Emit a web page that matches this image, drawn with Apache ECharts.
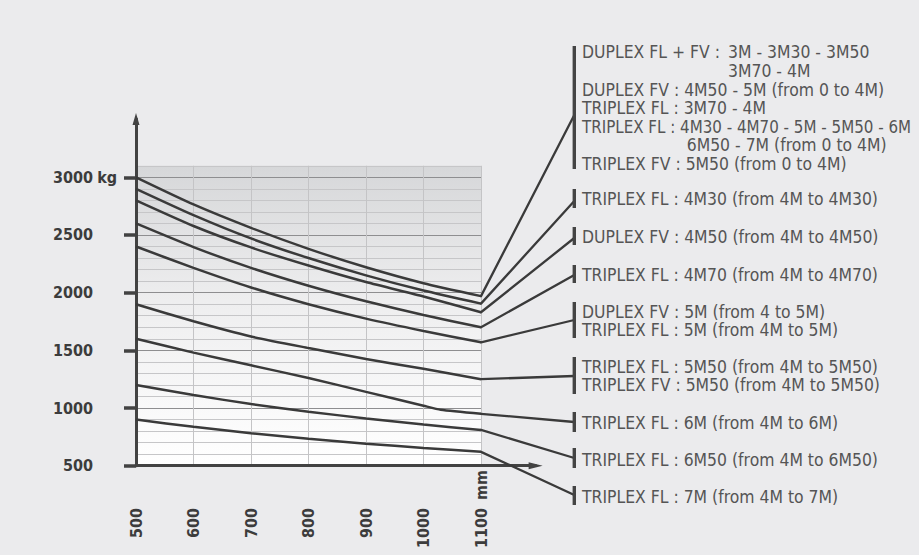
<!DOCTYPE html>
<html>
<head>
<meta charset="utf-8">
<script src="https://cdn.jsdelivr.net/npm/echarts@6.0.0/dist/echarts.min.js"></script>
<style>
html,body{margin:0;padding:0;background:#ebebed;}
#c{width:919px;height:555px;}
</style>
</head>
<body>
<div id="c"></div>
<script>
// ---------------- data ----------------
const loadCentres = [500, 600, 700, 800, 900, 1000, 1100];        // mm
const cap1 = [3000, 2765, 2562, 2380, 2220, 2082, 1970];          // kg
const cap2 = [2900, 2672, 2470, 2300, 2150, 2018, 1905];
const cap3 = [2800, 2578, 2392, 2235, 2092, 1967, 1830];
const cap4 = [2600, 2395, 2215, 2060, 1925, 1806, 1700];
const cap5 = [2400, 2215, 2045, 1900, 1775, 1668, 1570];
const cap6 = [1900, 1752, 1620, 1520, 1425, 1340, 1250];
const cap7Centres = [500, 600, 700, 800, 900, 1000, 1030, 1100];
const cap7 = [1600, 1480, 1370, 1260, 1140, 1020, 985, 950];
const cap8 = [1200, 1112, 1035, 968, 910, 857, 810];
const cap9 = [900, 837, 782, 734, 691, 654, 620];
const xUnit = 'mm';
const yUnit = 'kg';

const labelBlocks = [
  ['DUPLEX FL + FV :', '3M - 3M30 - 3M50', '3M70 - 4M',
   'DUPLEX FV : 4M50 - 5M (from 0 to 4M)', 'TRIPLEX FL : 3M70 - 4M',
   'TRIPLEX FL : 4M30 - 4M70 - 5M - 5M50 - 6M', '6M50 - 7M (from 0 to 4M)',
   'TRIPLEX FV : 5M50 (from 0 to 4M)'],
  ['TRIPLEX FL : 4M30 (from 4M to 4M30)'],
  ['DUPLEX FV : 4M50 (from 4M to 4M50)'],
  ['TRIPLEX FL : 4M70 (from 4M to 4M70)'],
  ['DUPLEX FV : 5M (from 4 to 5M)', 'TRIPLEX FL : 5M (from 4M to 5M)'],
  ['TRIPLEX FL : 5M50 (from 4M to 5M50)', 'TRIPLEX FV : 5M50 (from 4M to 5M50)'],
  ['TRIPLEX FL : 6M (from 4M to 6M)'],
  ['TRIPLEX FL : 6M50 (from 4M to 6M50)'],
  ['TRIPLEX FL : 7M (from 4M to 7M)']
];

// ---------------- layout (pixels) ----------------
const X0 = 136, KX = 0.575, Y0 = 465.7, KY = 0.11536;
const BAR_X = 574.3;
const bracketLayout = [
  {top: 46, bottom: 169, meet: 115},
  {top: 189, bottom: 208, meet: 201},
  {top: 227, bottom: 245, meet: 238},
  {top: 265, bottom: 283, meet: 275},
  {top: 302, bottom: 338, meet: 320},
  {top: 357, bottom: 394, meet: 376},
  {top: 412, bottom: 432, meet: 422},
  {top: 448, bottom: 468, meet: 458},
  {top: 486, bottom: 505, meet: 495}
];
// [x, y, fontSize?]
const labelPos = [
  [[582, 52.3], [728, 52.3], [728, 70.9], [582, 89.5], [582, 108.1], [582, 126.7, 16.8], [686.7, 145.3], [582, 164]],
  [[582, 199]],
  [[582, 236.7]],
  [[582, 275]],
  [[582, 311.7], [582, 330]],
  [[582, 366.7], [582, 385]],
  [[582, 422.7]],
  [[582, 460]],
  [[582, 496.7]]
];
const TEXT_SIZE = 17.4;

const FONT = '"DejaVu Sans Condensed", "DejaVu Sans", sans-serif';
const INK = '#3a3a3a';

function box(xmin, xmax, ymin, ymax) {
  return {
    left: X0 + (xmin - 500) * KX,
    top: Y0 - (ymax - 500) * KY,
    width: (xmax - xmin) * KX,
    height: (ymax - ymin) * KY,
    containLabel: false,
    outerBoundsMode: 'none'
  };
}

const curves = [
  [loadCentres, cap1], [loadCentres, cap2], [loadCentres, cap3],
  [loadCentres, cap4], [loadCentres, cap5], [loadCentres, cap6],
  [cap7Centres, cap7], [loadCentres, cap8], [loadCentres, cap9]
];

const chart = echarts.init(document.getElementById('c'), null, {renderer: 'svg'});

const hiddenAxis = {
  axisLine: {show: false}, axisTick: {show: false},
  axisLabel: {show: false}, splitLine: {show: false}
};

const labelStyle = {color: '#3c3c3c', fontWeight: 'bold', fontSize: 16, fontFamily: FONT};

const option = {
  animation: false,
  backgroundColor: '#ebebed',
  grid: [
    Object.assign(box(500, 1100, 500, 3100), {
      show: true, borderWidth: 0,
      backgroundColor: {
        type: 'linear', x: 0, y: 0, x2: 0, y2: 1,
        colorStops: [{offset: 0, color: '#d6d7d9'}, {offset: 0.45, color: '#eeeeef'}, {offset: 1, color: '#ffffff'}]
      }
    }),
    box(500, 1100, 500, 3000),
    box(500, 1195, 500, 3505)
  ],
  xAxis: [
    { // plot grid: numbers + vertical grid lines
      type: 'value', gridIndex: 0, min: 500, max: 1100, interval: 100,
      axisLine: {show: false}, axisTick: {show: false},
      axisLabel: Object.assign({rotate: 90, margin: 42.3, formatter: v => String(v)}, labelStyle),
      splitLine: {show: true, lineStyle: {color: '#c4c4c6', width: 1}}
    },
    { // unit "mm"
      type: 'value', gridIndex: 1, min: 500, max: 1100, interval: 100,
      axisLine: {show: false}, axisTick: {show: false}, splitLine: {show: false},
      axisLabel: Object.assign({rotate: 90, margin: 34.3, align: 'left',
        formatter: v => (v === 1100 ? xUnit : '')}, labelStyle)
    },
    Object.assign({ // arrow axis line
      type: 'value', gridIndex: 2, min: 500, max: 1195
    }, hiddenAxis, {
      axisLine: {show: true, onZero: false, symbol: ['none', 'triangle'], symbolSize: [7, 14],
        lineStyle: {color: '#424242', width: 3}}
    })
  ],
  yAxis: [
    { // plot grid: horizontal lines + unit "kg"
      type: 'value', gridIndex: 0, min: 500, max: 3100, interval: 100,
      axisLine: {show: false}, axisTick: {show: false},
      axisLabel: Object.assign({margin: 38.7, align: 'left',
        formatter: v => (v === 3000 ? yUnit : '')}, labelStyle),
      splitLine: {show: true, lineStyle: {color: ['#8e8e90', '#c6c6c8', '#c6c6c8', '#c6c6c8', '#c6c6c8'], width: 1}}
    },
    { // numbers + ticks
      type: 'value', gridIndex: 1, min: 500, max: 3000, interval: 500,
      axisLine: {show: false},
      axisTick: {show: true, length: 12, lineStyle: {color: '#424242', width: 3.5}},
      axisLabel: Object.assign({margin: 43, formatter: v => String(v)}, labelStyle),
      splitLine: {show: false}
    },
    Object.assign({
      type: 'value', gridIndex: 2, min: 500, max: 3505
    }, hiddenAxis, {
      axisLine: {show: true, onZero: false, symbol: ['none', 'triangle'], symbolSize: [7, 12],
        lineStyle: {color: '#424242', width: 3}}
    })
  ],
  series: curves.map(([xs, ys]) => ({
    type: 'line', xAxisIndex: 0, yAxisIndex: 0,
    data: xs.map((x, i) => [x, ys[i]]),
    symbol: 'none', smooth: 0.2, silent: true, clip: false,
    lineStyle: {color: INK, width: 2.5}, z: 5
  }))
};

chart.setOption(option);

// leader lines, brackets and texts
const graphics = [];
curves.forEach(([xs, ys], i) => {
  const end = chart.convertToPixel({seriesIndex: i}, [xs[xs.length - 1], ys[ys.length - 1]]);
  const b = bracketLayout[i];
  graphics.push({
    type: 'line', silent: true, z: 10,
    shape: {x1: end[0], y1: end[1], x2: BAR_X, y2: b.meet},
    style: {stroke: INK, lineWidth: 2.3, lineCap: 'round'}
  });
  graphics.push({
    type: 'rect', silent: true, z: 11,
    shape: {x: BAR_X - 1.7, y: b.top, width: 3.4, height: b.bottom - b.top},
    style: {fill: '#444444'}
  });
});
labelBlocks.forEach((lines, bi) => {
  lines.forEach((t, li) => {
    const p = labelPos[bi][li];
    graphics.push({
      type: 'text', silent: true, z: 12, x: p[0], y: p[1],
      style: {
        text: t, fill: '#555555',
        font: (p[2] || TEXT_SIZE) + 'px ' + FONT,
        textAlign: 'left', textVerticalAlign: 'middle',
        align: 'left', verticalAlign: 'middle'
      }
    });
  });
});
chart.setOption({graphic: graphics});
</script>
</body>
</html>
